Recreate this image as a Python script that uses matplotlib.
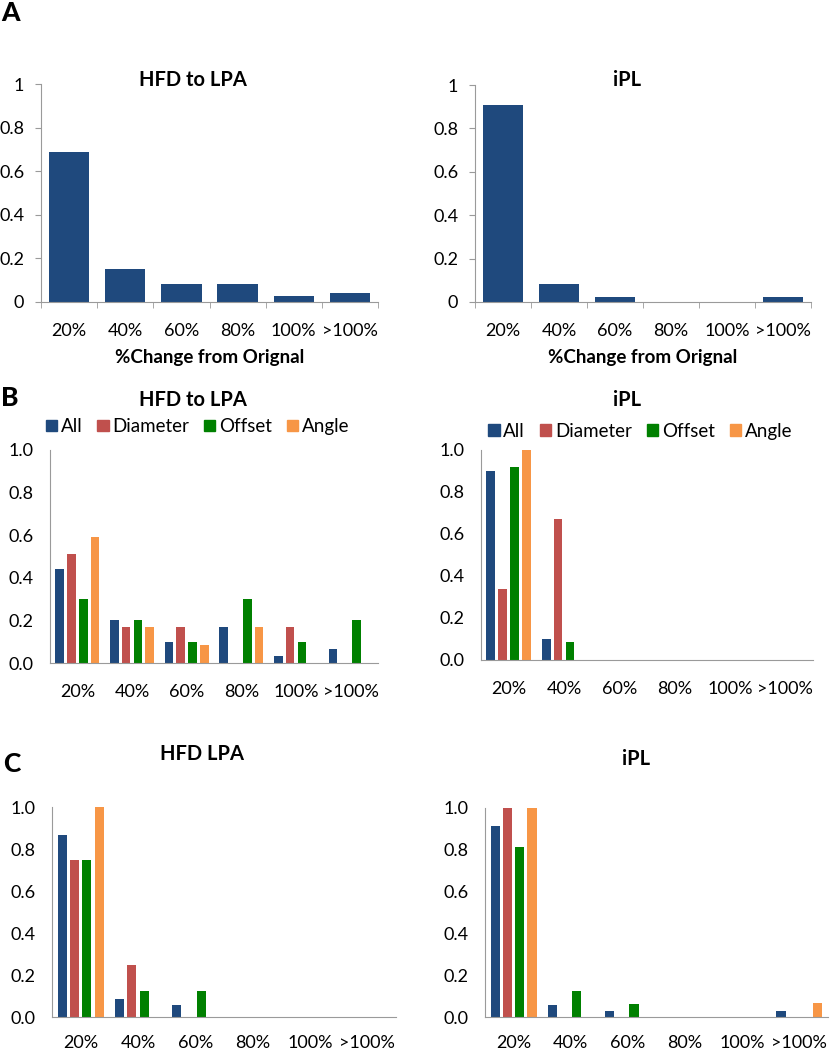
import numpy as np
import matplotlib
matplotlib.use("Agg")
import matplotlib.pyplot as plt
from matplotlib.patches import Patch

plt.rcParams['font.family'] = ['Lato', 'DejaVu Sans']

# -----------------------------
# data
# -----------------------------
categories = ["20%", "40%", "60%", "80%", "100%", ">100%"]
series_names = ["All", "Diameter", "Offset", "Angle"]

a_hfd = [0.69, 0.15, 0.083, 0.083, 0.026, 0.041]
a_ipl = [0.91, 0.082, 0.022, 0.0, 0.0, 0.022]

b_hfd_all = [0.44, 0.20, 0.10, 0.17, 0.033, 0.067]
b_hfd_dia = [0.51, 0.17, 0.17, 0.0, 0.17, 0.0]
b_hfd_off = [0.30, 0.20, 0.10, 0.30, 0.10, 0.20]
b_hfd_ang = [0.59, 0.17, 0.085, 0.17, 0.0, 0.0]

b_ipl_all = [0.90, 0.10, 0.0, 0.0, 0.0, 0.0]
b_ipl_dia = [0.34, 0.67, 0.0, 0.0, 0.0, 0.0]
b_ipl_off = [0.92, 0.084, 0.0, 0.0, 0.0, 0.0]
b_ipl_ang = [1.0, 0.0, 0.0, 0.0, 0.0, 0.0]

c_hfd_all = [0.865, 0.084, 0.057, 0.0, 0.0, 0.0]
c_hfd_dia = [0.75, 0.25, 0.0, 0.0, 0.0, 0.0]
c_hfd_off = [0.75, 0.124, 0.124, 0.0, 0.0, 0.0]
c_hfd_ang = [1.0, 0.0, 0.0, 0.0, 0.0, 0.0]

c_ipl_all = [0.915, 0.058, 0.029, 0.0, 0.0, 0.029]
c_ipl_dia = [1.0, 0.0, 0.0, 0.0, 0.0, 0.0]
c_ipl_off = [0.814, 0.125, 0.064, 0.0, 0.0, 0.0]
c_ipl_ang = [1.0, 0.0, 0.0, 0.0, 0.0, 0.069]

colors = ["#1F497D", "#C0504D", "#008000", "#F79646"]
axis_gray = "#9a9a9a"

# -----------------------------
# figure + helpers
# -----------------------------
W, H = 830, 1050
fig = plt.figure(figsize=(W / 100, H / 100), dpi=100)


def px_axes(l, t, r, b):
    return fig.add_axes([l / W, 1 - b / H, (r - l) / W, (b - t) / H])


def style(ax, fmt):
    for s in ["top", "right"]:
        ax.spines[s].set_visible(False)
    for s in ["left", "bottom"]:
        ax.spines[s].set_color(axis_gray)
    ax.set_ylim(0, 1)
    ax.set_xlim(-0.5, len(categories) - 0.5)
    ax.set_yticks(np.arange(0, 1.01, 0.2))
    ax.set_yticklabels([fmt(v) for v in np.arange(0, 1.01, 0.2)])
    ax.set_xticks(range(len(categories)))
    ax.set_xticklabels(categories)
    ax.tick_params(axis="both", labelsize=13, colors="black")


def txt(x, y, s, size=14.5, weight="bold"):
    fig.text(x / W, 1 - y / H, s, ha="center", va="center",
             fontsize=size, fontweight=weight)


def fmt_a(v):
    return "0" if v < 0.01 else ("1" if v > 0.99 else f"{v:.1f}")


def fmt_b(v):
    return f"{v:.1f}"


# -----------------------------
# Panel A
# -----------------------------
x = np.arange(len(categories))
for (l, t, r, b), vals in [((41, 84, 378, 302), a_hfd), ((475, 85, 811, 302), a_ipl)]:
    ax = px_axes(l, t, r, b)
    ax.bar(x, vals, width=0.72, color=colors[0])
    style(ax, fmt_a)
    ax.set_xticks(np.arange(-0.5, len(categories)), minor=True)
    ax.tick_params(axis="x", which="major", length=0, pad=15)
    ax.tick_params(axis="x", which="minor", length=4, color=axis_gray)
    ax.tick_params(axis="y", length=4, color=axis_gray, pad=8)
    ax.set_xlabel("%Change from Orignal", fontsize=13.5, fontweight="bold", labelpad=7)

txt(193, 80, "HFD to LPA")
txt(627, 80, "iPL")
txt(10, 13, "A", size=19, weight="black")


# -----------------------------
# Panels B and C (grouped bars)
# -----------------------------
def grouped(rect, series, legend_xy=None, xpad=15):
    ax = px_axes(*rect)
    step = 0.215
    for i, vals in enumerate(series):
        ax.bar(x + (i - 1.5) * step, vals, width=0.16, color=colors[i])
    style(ax, fmt_b)
    ax.tick_params(axis="x", length=0, pad=xpad)
    ax.tick_params(axis="y", length=0, pad=12)
    if legend_xy is not None:
        handles = [Patch(color=c, label=n) for c, n in zip(colors, series_names)]
        ax.legend(handles=handles, loc="center", bbox_to_anchor=legend_xy,
                  ncol=4, frameon=False, fontsize=13.5, handlelength=0.6,
                  handleheight=0.6, handletextpad=0.2, columnspacing=0.8)
    return ax


grouped((50, 450, 378, 663), [b_hfd_all, b_hfd_dia, b_hfd_off, b_hfd_ang], (0.45, 1.11))
grouped((481, 450, 813, 660), [b_ipl_all, b_ipl_dia, b_ipl_off, b_ipl_ang], (0.48, 1.09))
txt(193, 400, "HFD to LPA")
txt(627, 400, "iPL")
txt(10, 398, "B", size=19, weight="black")

grouped((52, 807, 396, 1017), [c_hfd_all, c_hfd_dia, c_hfd_off, c_hfd_ang], xpad=13)
grouped((485, 808, 828, 1017), [c_ipl_all, c_ipl_dia, c_ipl_off, c_ipl_ang], xpad=13)
txt(202, 754, "HFD LPA")
txt(636, 759, "iPL")
txt(12, 764, "C", size=19, weight="black")

fig.savefig("out.png", dpi=100)
